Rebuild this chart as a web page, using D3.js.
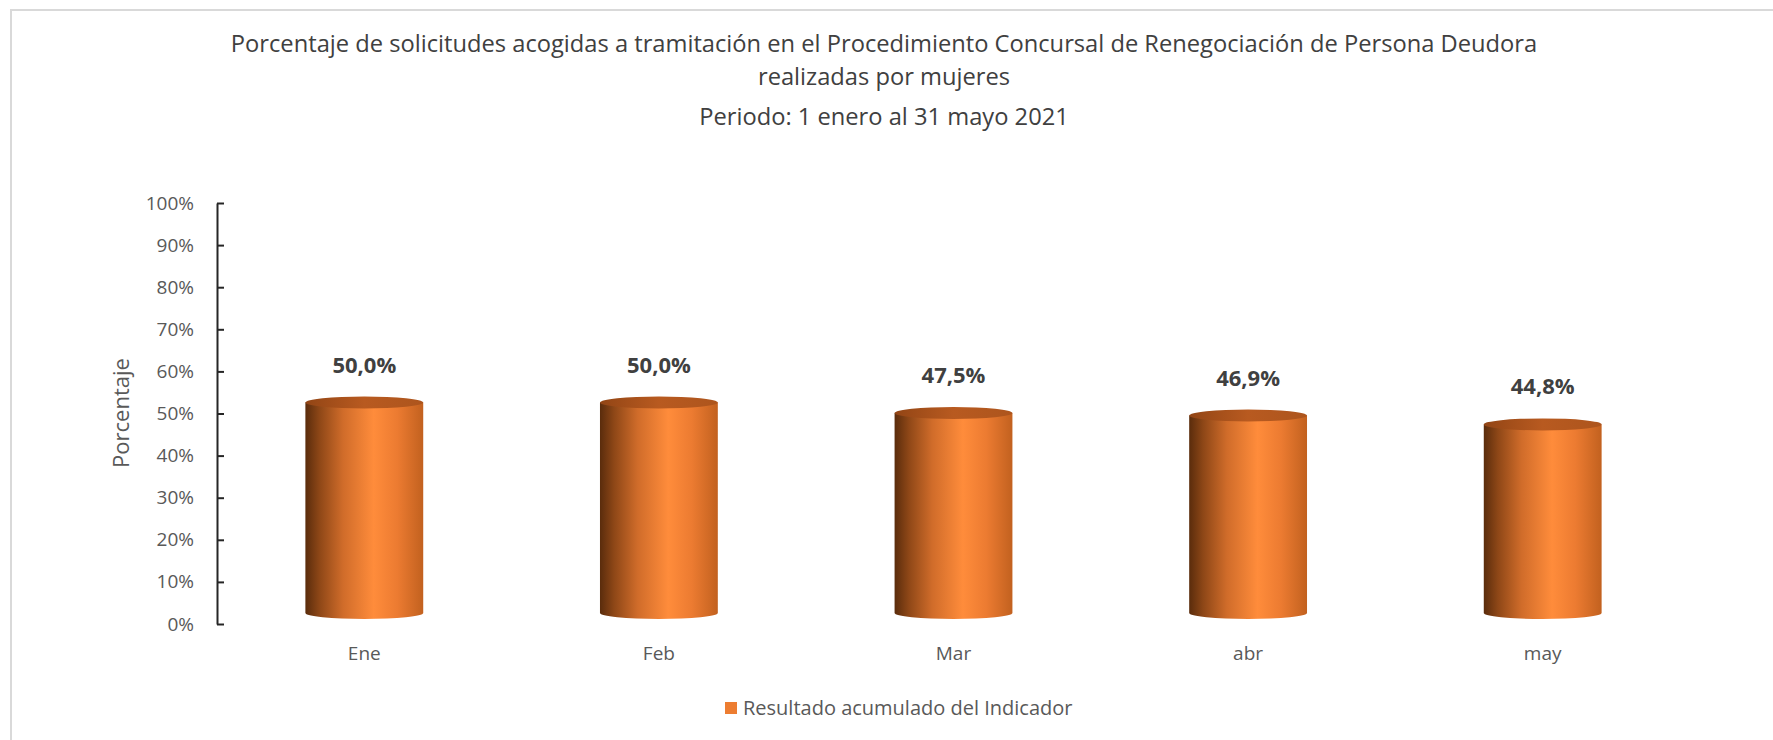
<!DOCTYPE html>
<html>
<head>
<meta charset="utf-8">
<script src="https://cdn.jsdelivr.net/npm/d3@7"></script>
<style>
  html, body { margin: 0; padding: 0; background: #fff; }
  svg { display: block; font-family: 'Open Sans', sans-serif; }
</style>
</head>
<body>
<div id="chart"></div>
<script>
'use strict'

var titleLines = [
  'Porcentaje de solicitudes acogidas a tramitación en el Procedimiento Concursal de Renegociación de Persona Deudora',
  'realizadas por mujeres',
  'Periodo: 1 enero al 31 mayo 2021'
]
var months = ['Ene', 'Feb', 'Mar', 'abr', 'may']
var results = [0.500, 0.500, 0.475, 0.469, 0.448]
var yTicks = [0, 0.1, 0.2, 0.3, 0.4, 0.5, 0.6, 0.7, 0.8, 0.9, 1]
var seriesName = 'Resultado acumulado del Indicador'
var yTitle = 'Porcentaje'

var width = 1773
var height = 740
var depth = 11 // 3d lift of the cylinders

var es = d3.formatLocale({ decimal: ',', thousands: '.', grouping: [3], currency: ['', '€'] })
var fmtTick = es.format('.0%')
var fmtLabel = es.format('.1%')

var svg = d3.select('#chart').append('svg')
  .attr('width', width)
  .attr('height', height)

var defs = svg.append('defs')
var bodyGrad = defs.append('linearGradient').attr('id', 'cylBody')
  .attr('x1', 0).attr('x2', 1).attr('y1', 0).attr('y2', 0)
bodyGrad.selectAll('stop')
  .data([['0%', '#5a2c0c'], ['12%', '#8e4717'], ['32%', '#d06c2a'], ['58%', '#ff8c3b'], ['78%', '#ec7b31'], ['100%', '#c2611f']])
  .enter().append('stop')
  .attr('offset', function (d) { return d[0] })
  .attr('stop-color', function (d) { return d[1] })
var topGrad = defs.append('linearGradient').attr('id', 'cylTop')
  .attr('x1', 0).attr('x2', 1).attr('y1', 0).attr('y2', 0)
topGrad.selectAll('stop')
  .data([['0%', '#924515'], ['50%', '#b85a20'], ['100%', '#ad551d']])
  .enter().append('stop')
  .attr('offset', function (d) { return d[0] })
  .attr('stop-color', function (d) { return d[1] })

// frame lines
svg.append('line').attr('x1', 10).attr('x2', width).attr('y1', 10).attr('y2', 10)
  .style('stroke', '#d9d9d9').style('stroke-width', '2px')
svg.append('line').attr('x1', 11).attr('x2', 11).attr('y1', 10).attr('y2', height)
  .style('stroke', '#d9d9d9').style('stroke-width', '2px')

// title
svg.selectAll('text.title')
  .data(titleLines)
  .enter().append('text')
  .classed('title', true)
  .attr('x', 884)
  .attr('y', function (d, i) { return [52, 85, 125][i] })
  .attr('text-anchor', 'middle')
  .style('font-size', '23.7px')
  .style('fill', '#404040')
  .text(function (d) { return d })

var x = d3.scaleBand()
  .domain(months)
  .range([217, 1690])
  .paddingInner(0.6)
  .paddingOuter(0.3)

var y = d3.scaleLinear()
  .domain([0, 1])
  .range([624, 203])

var yAxis = d3.axisLeft(y)
  .tickValues(yTicks)
  .tickFormat(fmtTick)
  .tickSizeInner(-7)
  .tickSizeOuter(0)
  .tickPadding(23)

var gy = svg.append('g')
  .attr('transform', 'translate(217,0)')
  .call(yAxis)
gy.select('.domain').style('stroke', '#262626').style('stroke-width', '2px')
gy.selectAll('.tick line').style('stroke', '#262626').style('stroke-width', '2px')
gy.selectAll('.tick text')
  .style('font-family', "'Open Sans', sans-serif")
  .style('font-size', '19px')
  .style('fill', '#595959')

svg.append('text')
  .attr('transform', 'translate(129,413) rotate(-90)')
  .attr('text-anchor', 'middle')
  .style('font-size', '22px')
  .style('fill', '#595959')
  .text(yTitle)

// cylinders
var rx = x.bandwidth() / 2
var ry = 6
var bars = svg.selectAll('g.bar')
  .data(results)
  .enter().append('g')
  .classed('bar', true)
  .attr('transform', function (d, i) {
    return 'translate(' + (x(months[i]) + rx) + ',0)'
  })

bars.append('path')
  .attr('d', function (d) {
    var yt = y(d) - depth
    var yb = y(0) - depth
    return 'M' + (-rx) + ',' + yt +
      'L' + (-rx) + ',' + yb +
      'A' + rx + ',' + ry + ' 0 0 0 ' + rx + ',' + yb +
      'L' + rx + ',' + yt + 'Z'
  })
  .style('fill', 'url(#cylBody)')

bars.append('ellipse')
  .attr('cx', 0)
  .attr('cy', function (d) { return y(d) - depth })
  .attr('rx', rx)
  .attr('ry', ry)
  .style('fill', 'url(#cylTop)')

bars.append('text')
  .attr('x', 0)
  .attr('y', function (d) { return y(d) - depth - 38 + 8 })
  .attr('text-anchor', 'middle')
  .style('font-size', '22px')
  .style('font-weight', 'bold')
  .style('fill', '#404040')
  .text(function (d) { return fmtLabel(d) })

// category labels
svg.selectAll('text.cat')
  .data(months)
  .enter().append('text')
  .classed('cat', true)
  .attr('x', function (d) { return x(d) + rx })
  .attr('y', 660)
  .attr('text-anchor', 'middle')
  .style('font-size', '19px')
  .style('fill', '#595959')
  .text(function (d) { return d })

// legend
var legend = svg.append('g').attr('transform', 'translate(725,702)')
legend.append('rect')
  .attr('width', 12)
  .attr('height', 12)
  .style('fill', '#ed7d31')
legend.append('text')
  .attr('x', 18)
  .attr('y', 13)
  .style('font-size', '20px')
  .style('fill', '#595959')
  .text(seriesName)
</script>
</body>
</html>
